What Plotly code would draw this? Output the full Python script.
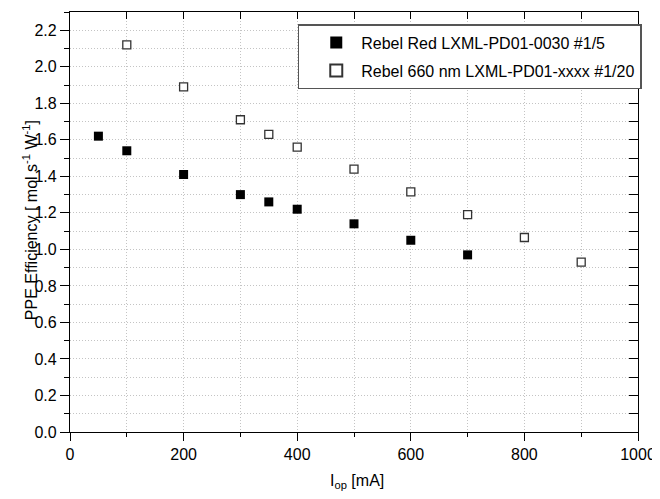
import plotly.graph_objects as go

# Data
red_current = [50, 100, 200, 300, 350, 400, 500, 600, 700]
red_eff = [1.62, 1.54, 1.41, 1.30, 1.26, 1.22, 1.14, 1.05, 0.97]

nm660_current = [100, 200, 300, 350, 400, 500, 600, 700, 800, 900]
nm660_eff = [2.12, 1.89, 1.71, 1.63, 1.56, 1.44, 1.315, 1.19, 1.065, 0.93]

series_names = ["Rebel Red LXML-PD01-0030 #1/5", "Rebel 660 nm LXML-PD01-xxxx #1/20"]
x_title = "I<sub>op</sub> [mA]"
y_title = "PPE Efficiency [ mol s<sup>-1</sup> W<sup>-1</sup>]"

FONT = "Liberation Sans, Arial, Helvetica, sans-serif"
GRID = "#c4c4c4"
DOT = "1px,2px"

fig = go.Figure()
fig.add_trace(go.Scatter(
    x=red_current, y=red_eff, mode="markers", name=series_names[0],
    legendgroup="a",
    marker=dict(symbol="square", size=9, color="black", line=dict(width=0)),
))
fig.add_trace(go.Scatter(
    x=nm660_current, y=nm660_eff, mode="markers", name=series_names[1],
    legendgroup="b",
    marker=dict(symbol="square", size=8, color="white", line=dict(width=1.3, color="#333333")),
))
# dummy trace to anchor the mirror axes (top / right)
fig.add_trace(go.Scatter(x=[None], y=[None], xaxis="x2", yaxis="y2",
                         showlegend=False, hoverinfo="skip"))

fig.update_layout(
    width=660, height=499,
    margin=dict(l=62, r=30, t=4, b=75),
    paper_bgcolor="white", plot_bgcolor="white",
    font=dict(family=FONT, size=16, color="black"),
    showlegend=True,
    legend=dict(
        x=0.401, y=0.971, xanchor="left", yanchor="top",
        bgcolor="white", bordercolor="#555555", borderwidth=1.5,
        font=dict(family=FONT, size=16, color="black"),
        tracegroupgap=4,
        indentation=12,
        itemwidth=40,
        itemsizing="constant",
    ),
    xaxis=dict(
        range=[0, 1000], dtick=200, tick0=0,
        showline=True, linecolor="black", linewidth=1.3,
        ticks="outside", ticklen=8, tickwidth=1.2, tickcolor="black",
        showgrid=True, gridcolor=GRID, griddash=DOT, gridwidth=1,
        zeroline=False,
        tickfont=dict(family=FONT, size=16),
        minor=dict(dtick=100, ticks="outside", ticklen=4, tickwidth=1.2, tickcolor="black",
                   showgrid=True, gridcolor=GRID, griddash=DOT, gridwidth=1),
    ),
    yaxis=dict(
        range=[0, 2.3], dtick=0.2, tick0=0, tickformat=".1f",
        showline=True, linecolor="black", linewidth=1.3,
        ticks="outside", ticklen=9, tickwidth=1.2, tickcolor="black",
        showgrid=True, gridcolor=GRID, griddash=DOT, gridwidth=1,
        zeroline=False,
        tickfont=dict(family=FONT, size=16),
        minor=dict(dtick=0.1, ticks="outside", ticklen=5, tickwidth=1.2, tickcolor="black",
                   showgrid=True, gridcolor=GRID, griddash=DOT, gridwidth=1),
    ),
    xaxis2=dict(
        range=[0, 1000], overlaying="x", side="top", anchor="y2",
        dtick=100, tick0=0, ticks="inside", ticklen=7, tickwidth=1.2, tickcolor="black",
        showticklabels=False, showline=True, linecolor="black", linewidth=1.3,
        showgrid=False, zeroline=False,
    ),
    yaxis2=dict(
        range=[0, 2.3], overlaying="y", side="right", anchor="x2",
        dtick=0.1, tick0=0, ticks="inside", ticklen=9, tickwidth=1.2, tickcolor="black",
        showticklabels=False, showline=True, linecolor="black", linewidth=1.3,
        showgrid=False, zeroline=False,
    ),
    annotations=[
        dict(text=x_title, xref="paper", yref="paper", x=0.505, y=-0.119,
             xanchor="center", yanchor="middle", showarrow=False,
             font=dict(family=FONT, size=16)),
        dict(text=y_title, xref="paper", yref="paper", x=-0.07, y=0.505,
             xanchor="center", yanchor="middle", showarrow=False, textangle=-90,
             font=dict(family=FONT, size=16)),
    ],
)

fig.write_html("out.html")
